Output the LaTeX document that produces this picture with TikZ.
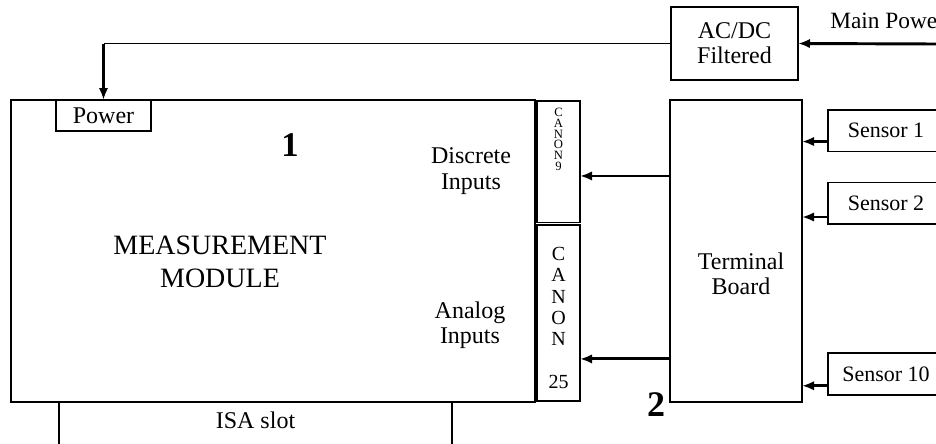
\documentclass[tikz,border=0pt]{standalone}
\usepackage{fontspec}
\setmainfont{Liberation Serif}
\usetikzlibrary{arrows.meta,calc}
\begin{document}
\begin{tikzpicture}[x=0.75pt,y=-0.75pt,
  box/.style={draw, line width=1pt, inner sep=0pt, outer sep=0pt, align=center,
              font=\fontsize{18}{19}\selectfont},
  feed/.style={line width=2.2pt, -{Latex[length=9pt,width=7pt]}},
  wire/.style={line width=1.1pt},
  lbl/.style={align=center, inner sep=0pt, font=\fontsize{18}{19}\selectfont},
  num/.style={inner sep=0pt, font=\fontsize{26}{26}\selectfont\bfseries},
  pins/.style={align=center, inner sep=0pt},
]
\useasboundingbox (0,0) rectangle (936,443);
\fill[white] (0,0) rectangle (936,443);
\clip (0,0) rectangle (936,443);

% measurement module and its parts
\node[box, minimum width=393pt, minimum height=226.5pt] (mm) at (273,251) {};
\node[box, minimum width=71.25pt, minimum height=23.25pt] (power) at (103.5,115.5) {Power};
\node[box, minimum width=294.75pt, minimum height=43.5pt] (isa) at (255.5,431) {};
\node[lbl] (isalbl) at (255.5,420) {ISA slot};
\node[lbl, font=\fontsize{21}{25}\selectfont] (mmlbl) at (220,262) {MEASUREMENT\\MODULE};
\node[num] (one) at (290,145) {1};
\node[lbl] (din) at (471,171) {Discrete\\Inputs};
\node[lbl] (ain) at (470,325) {Analog\\Inputs};

% connectors
\node[box, minimum width=32.25pt, minimum height=91.125pt] (c9) at (558.5,161.75) {};
\node[box, minimum width=32.25pt, minimum height=132pt] (c25) at (558.5,313) {};
\node[pins, font=\fontsize{9.5}{8}\selectfont] (c9lbl) at (558.5,139.5)
  {C\\A\\N\\O\\N\\9};
\node[pins, font=\fontsize{15}{16}\selectfont] (c25lbl) at (558.5,318)
  {C\\A\\N\\O\\N\\[16pt]25};

% supply
\node[box, minimum width=95.25pt, minimum height=54.75pt] (acdc) at (734.5,43.5) {AC/DC\\Filtered};
\node[lbl, anchor=base west, font=\fontsize{17.5}{19}\selectfont] (mp) at (830,28) {Main Power};
\coordinate (mainin) at (936,44);

% terminal board and sensors
\node[box, minimum width=99pt, minimum height=226.5pt] (tb) at (736,251) {};
\node[lbl] (tblbl) at (741,274) {Terminal\\Board};
\node[num, font=\fontsize{27}{27}\selectfont\bfseries] (two) at (656,405) {2};
\node[box, minimum width=87pt, minimum height=31.1pt, font=\fontsize{16.5}{18}\selectfont] (s1) at (886,130.75) {Sensor 1};
\node[box, minimum width=87pt, minimum height=31pt, font=\fontsize{16.5}{18}\selectfont] (s2) at (886,203.35) {Sensor 2};
\node[box, minimum width=87pt, minimum height=31.5pt, font=\fontsize{16.5}{18}\selectfont] (s10) at (886,374) {Sensor 10};

% power feed
\draw[feed] (mainin) -- (acdc.east);
\draw[wire] (acdc.west) -- (power.north |- acdc.west);
\draw[feed] (power.north |- acdc.west) -- (power.north);

% signal paths
\coordinate (c9in) at ($(c9.north east)!0.617!(c9.south east)$);
\coordinate (c25in) at ($(c25.north east)!0.761!(c25.south east)$);
\draw[feed] (tb.west |- c9in) -- (c9in);
\draw[feed] (tb.west |- c25in) -- (c25in);

\coordinate (s1out) at ($(s1.south west)!0.24!(s1.north west)$);
\coordinate (s2out) at ($(s2.south west)!0.17!(s2.north west)$);
\coordinate (s10out) at ($(s10.south west)!0.22!(s10.north west)$);
\draw[feed] (s1out) -- (tb.east |- s1out);
\draw[feed] (s2out) -- (tb.east |- s2out);
\draw[feed] (s10out) -- (tb.east |- s10out);
\end{tikzpicture}
\end{document}
